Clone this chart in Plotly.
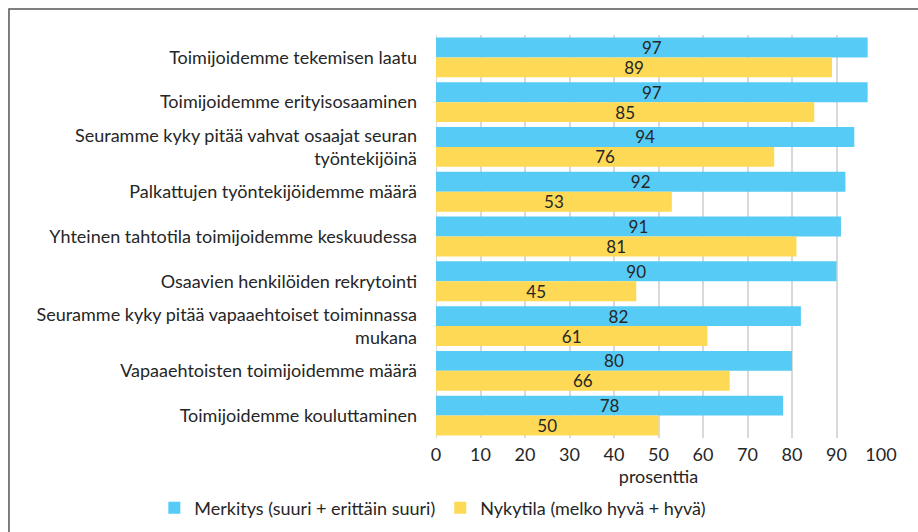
import plotly.graph_objects as go

categories = [
    "Toimijoidemme tekemisen laatu",
    "Toimijoidemme erityisosaaminen",
    "Seuramme kyky pitää vahvat osaajat seuran<br>työntekijöinä",
    "Palkattujen työntekijöidemme määrä",
    "Yhteinen tahtotila toimijoidemme keskuudessa",
    "Osaavien henkilöiden rekrytointi",
    "Seuramme kyky pitää vapaaehtoiset toiminnassa<br>mukana",
    "Vapaaehtoisten toimijoidemme määrä",
    "Toimijoidemme kouluttaminen",
]
merkitys = [97, 97, 94, 92, 91, 90, 82, 80, 78]
nykytila = [89, 85, 76, 53, 81, 45, 61, 66, 50]
series_names = ["Merkitys (suuri + erittäin suuri)", "Nykytila (melko hyvä + hyvä)"]
tick_vals = list(range(0, 101, 10))

FONT = "Lato, 'Open Sans', sans-serif"
TXT = "#262626"

fig = go.Figure()
for vals, name, color in [(merkitys, series_names[0], "#56CBF5"),
                          (nykytila, series_names[1], "#FDD955")]:
    fig.add_trace(go.Bar(
        y=categories, x=vals, name=name, orientation="h",
        marker=dict(color=color, line=dict(width=0)),
        text=vals, textposition="inside", insidetextanchor="middle", textangle=0,
        constraintext="none",
        textfont=dict(family=FONT, size=17, color=TXT), cliponaxis=False,
    ))

fig.update_layout(
    width=918, height=532,
    margin=dict(l=436, r=37, t=35, b=94, autoexpand=False),
    paper_bgcolor="white", plot_bgcolor="white",
    barmode="group", bargap=0.11, bargroupgap=0,
    font=dict(family=FONT, size=18, color=TXT),
    showlegend=True,
    legend=dict(orientation="h", xref="paper", yref="paper",
                x=-0.633, xanchor="left", y=-0.1737, yanchor="middle",
                font=dict(family=FONT, size=18, color=TXT), traceorder="normal",
                itemwidth=30),
    xaxis=dict(range=[0, 100], tickvals=tick_vals, showgrid=True, gridcolor="#D9D9D9",
               gridwidth=2, zeroline=False, showline=False, ticks="", automargin=False,
               ticklabelstandoff=4,
               tickfont=dict(family=FONT, size=18, color=TXT),
               title=dict(text="prosenttia", font=dict(family=FONT, size=18, color=TXT), standoff=4),
               fixedrange=True),
    yaxis=dict(autorange="reversed", showgrid=False, zeroline=False, showline=False,
               ticks="", ticklabelstandoff=18, automargin=False,
               tickfont=dict(family=FONT, size=18, color=TXT)),
    shapes=[
        dict(type="line", xref="x", yref="paper", x0=0, x1=0, y0=0, y1=1,
             line=dict(color="#D9D9D9", width=2), layer="below"),
        dict(type="rect", xref="paper", yref="paper", x0=-0.9596, x1=1.3, y0=-0.5, y1=1.0645,
             line=dict(color="#555555", width=1.5), fillcolor="rgba(0,0,0,0)", layer="above"),
    ],
)

fig.write_html("out.html", post_script="document.body.style.margin='0';",
               config={"displayModeBar": False})
